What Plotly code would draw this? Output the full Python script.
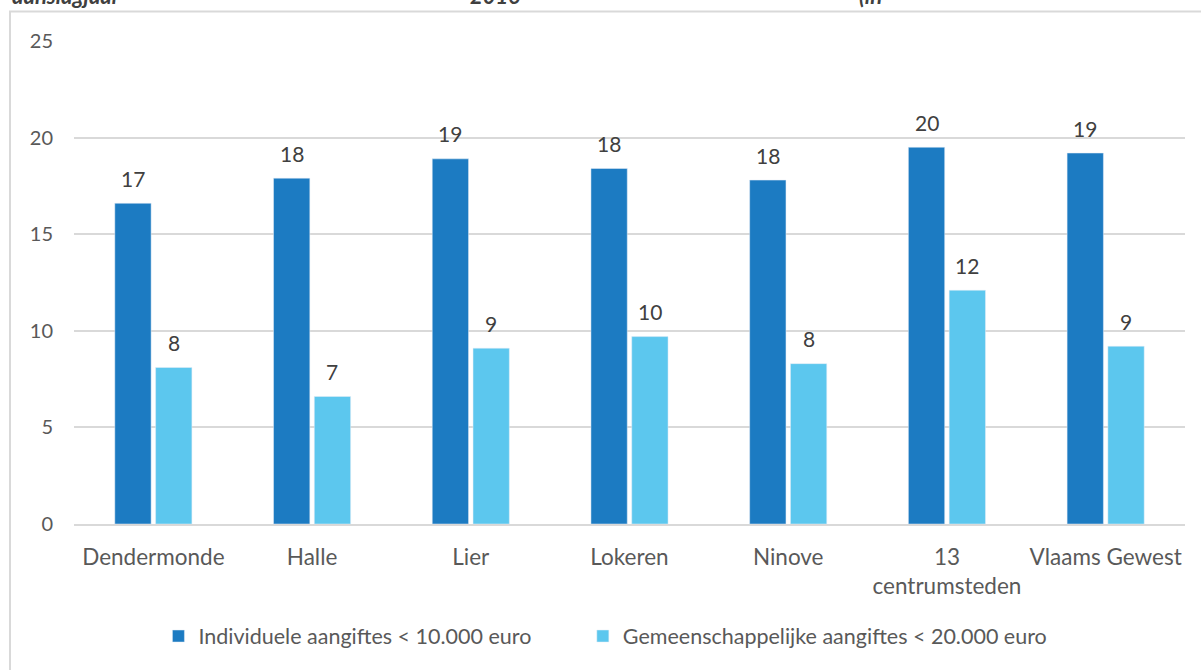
import plotly.graph_objects as go

# data
steden = ["Dendermonde", "Halle", "Lier", "Lokeren", "Ninove", "13<br>centrumsteden", "Vlaams Gewest"]
individueel = [16.6, 17.9, 18.9, 18.4, 17.8, 19.5, 19.2]
gemeenschappelijk = [8.1, 6.6, 9.1, 9.7, 8.3, 12.1, 9.2]
reeks_namen = ["Individuele aangiftes < 10.000 euro", "Gemeenschappelijke aangiftes < 20.000 euro"]
y_ticks = [0, 5, 10, 15, 20, 25]

DONKER = "#1C7BC2"
LICHT = "#5CC7EE"
TEKST = "#595959"
FONT = "Lato"

fig = go.Figure()
fig.add_trace(go.Bar(x=steden, y=individueel, name=reeks_namen[0], marker_color=DONKER,
                     legend="legend", showlegend=True))
fig.add_trace(go.Bar(x=steden, y=gemeenschappelijk, name=reeks_namen[1], marker_color=LICHT,
                     legend="legend2", showlegend=True))

# waardelabels boven de staven (iets hoger dan plotly's eigen 'outside')
for reeks, verschuiving in [(individueel, -20.4), (gemeenschappelijk, 20.4)]:
    for stad, waarde in zip(steden, reeks):
        fig.add_annotation(
            x=stad, y=waarde, text=f"{waarde:.0f}", showarrow=False,
            xshift=verschuiving, yshift=25, yanchor="middle",
            font=dict(family=FONT, size=21, color="#404040")
        )

# afgesneden titel bovenaan
for tekst, xpos, anchor in [("aanslagjaar", -0.0576, "left"), ("2016", 0.379, "center"), ("(in", 0.705, "left")]:
    fig.add_annotation(
        text=f"<b><i>{tekst}</i></b>", x=xpos, y=1.062, xref="paper", yref="paper",
        xanchor=anchor, yanchor="bottom", showarrow=False,
        font=dict(family=FONT, size=22, color="#404040")
    )

# kader rond de grafiek
fig.add_shape(
    type="rect", xref="paper", yref="paper", x0=-0.0576, x1=1.03, y0=-0.4, y1=1.061,
    line=dict(color="#D9D9D9", width=2), layer="below"
)

legende = dict(orientation="h", xanchor="left", y=-0.232, yanchor="middle",
               font=dict(size=21.5, color=TEKST), itemwidth=30, bgcolor="rgba(0,0,0,0)")
fig.update_layout(
    width=1201, height=670,
    margin=dict(l=74, r=16, t=41, b=146),
    plot_bgcolor="white", paper_bgcolor="white",
    font=dict(family=FONT, size=20, color=TEKST),
    barmode="group", bargap=0.486, bargroupgap=0.11,
    showlegend=True,
    legend=dict(legende, x=0.076),
    legend2=dict(legende, x=0.458),
)
fig.update_yaxes(range=[0, 25], tickvals=y_ticks, showgrid=True, gridcolor="#D9D9D9", gridwidth=1.5,
                 zeroline=False, showline=False, ticklabelstandoff=20, tickfont=dict(size=20))
fig.update_xaxes(showline=True, linecolor="#D9D9D9", linewidth=1.5, ticks="",
                 ticklabelstandoff=12, tickfont=dict(size=22.5))

fig.write_html("out.html", config={"displayModeBar": False},
               post_script="document.body.style.margin='0';")
